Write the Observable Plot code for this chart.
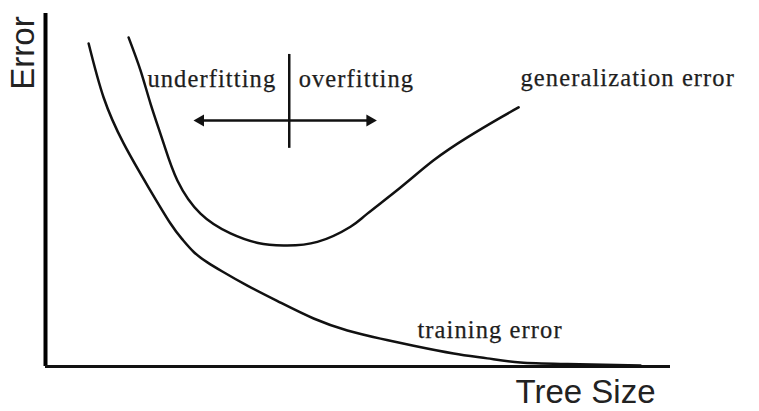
<!DOCTYPE html>
<html>
<head>
<meta charset="utf-8">
<script src="https://cdn.jsdelivr.net/npm/d3@7"></script>
<script src="https://cdn.jsdelivr.net/npm/@observablehq/plot@0.6"></script>
<style>
  html, body { margin: 0; padding: 0; background: #fff; }
  #chart svg { display: block; }
</style>
</head>
<body>
<div id="chart"></div>
<script>
// Abstract units: tree size 0–100, error 0–100
const trainingX = [6.9, 9.3, 12.5, 16.5, 20.0, 21.9, 23.8, 25.9, 28.3, 32.3, 37.6, 42.9, 48.3, 53.6, 58.9, 65.3, 70.7, 76.0, 83.5, 95.2];
const trainingY = [91.5, 76.2, 63.2, 50.7, 40.5, 36.0, 32.3, 29.5, 26.9, 22.9, 18.1, 13.6, 10.2, 7.9, 5.9, 3.7, 2.3, 1.1, 0.7, 0.3];

const generalX = [13.3, 15.2, 16.8, 18.9, 21.1, 24.8, 29.6, 34.0, 38.1, 43.5, 48.8, 51.5, 56.8, 62.1, 67.5, 72.8, 75.7];
const generalY = [93.2, 83.9, 74.5, 63.2, 52.7, 43.3, 37.7, 35.0, 34.3, 35.3, 39.6, 43.3, 50.7, 58.4, 64.9, 70.5, 73.4];

// The underfitting / overfitting divider
const dividerX = 39.0;
const dividerY = [61.8, 88.4];
const arrowY = 69.7;
const arrowLeft = 23.7;
const arrowRight = 53.0;

const labels = [
  {text: "underfitting", x: 16.3, y: 79.3},
  {text: "overfitting", x: 40.5, y: 79.3},
  {text: "generalization error", x: 76.0, y: 79.6},
  {text: "training error", x: 59.5, y: 8.2}
];

const axisTitleX = {text: "Tree Size", x: 75.2, y: -10.2};
const axisTitleY = {text: "Error", x: -1.9, y: 88.8};

const training = trainingX.map((x, i) => ({x, y: trainingY[i]}));
const general = generalX.map((x, i) => ({x, y: generalY[i]}));

const chart = Plot.plot({
  width: 759,
  height: 411,
  marginLeft: 45,
  marginRight: 89,
  marginTop: 13,
  marginBottom: 45,
  x: {domain: [0, 100], axis: null},
  y: {domain: [0, 100], axis: null},
  style: {background: "#fff", overflow: "visible"},
  marks: [
    // axes
    Plot.ruleX([0], {y1: 0, y2: 100, stroke: "#000", strokeWidth: 4}),
    Plot.ruleY([0], {x1: 0, x2: 100, stroke: "#111", strokeWidth: 3}),
    // curves
    Plot.line(training, {x: "x", y: "y", curve: "natural", stroke: "#111", strokeWidth: 2.5}),
    Plot.line(general, {x: "x", y: "y", curve: "natural", stroke: "#111", strokeWidth: 2.5}),
    // divider cross
    Plot.ruleX([dividerX], {y1: dividerY[0], y2: dividerY[1], stroke: "#111", strokeWidth: 2.5}),
    Plot.ruleY([arrowY], {x1: arrowLeft + 1, x2: arrowRight - 1, stroke: "#111", strokeWidth: 2.5}),
    Plot.dot([{x: arrowLeft + 1.1, r: -90}, {x: arrowRight - 1.1, r: 90}], {
      x: "x", y: () => arrowY, symbol: "triangle", r: 4.5, rotate: "r", fill: "#111", stroke: null
    }),
    // labels
    Plot.text(labels, {
      x: "x", y: "y", text: "text", textAnchor: "start", lineAnchor: "bottom",
      fontFamily: "Liberation Serif", fontSize: 24.5, fill: "#1e1e1e",
      stroke: "#1e1e1e", strokeWidth: 0.25
    }),
    Plot.text([axisTitleX], {
      x: "x", y: "y", text: "text", textAnchor: "start", lineAnchor: "bottom",
      fontFamily: "Liberation Sans", fontSize: 33, fill: "#222"
    }),
    Plot.text([axisTitleY], {
      x: "x", y: "y", text: "text", textAnchor: "middle", lineAnchor: "bottom",
      rotate: -90, fontFamily: "Liberation Sans", fontSize: 33, fill: "#222"
    })
  ]
});

// letter-spacing for the serif annotation labels
d3.select(chart).selectAll("g[font-family='Liberation Serif'] text, text[font-family='Liberation Serif']")
  .style("letter-spacing", "1.1px");

document.getElementById("chart").appendChild(chart);
</script>
</body>
</html>
